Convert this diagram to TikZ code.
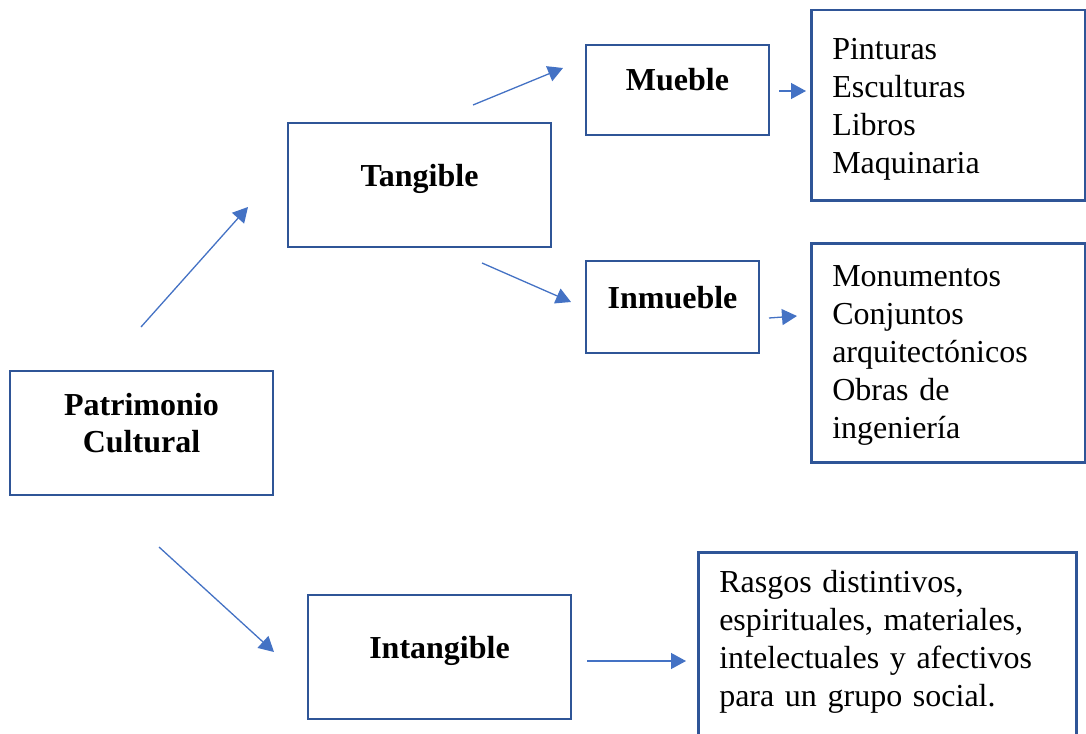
\documentclass[tikz,border=0pt]{standalone}
\usepackage{fontspec}
\setmainfont{Liberation Serif}
\usetikzlibrary{arrows.meta}

\definecolor{boxblue}{HTML}{2F5597}
\definecolor{arrowblue}{HTML}{4472C4}

\tikzset{
  box/.style={draw=boxblue, line width=2.5pt, inner sep=0pt,
    minimum width=263pt, minimum height=124pt,
    text height=22pt, text depth=20pt,
    font=\bfseries\fontsize{32}{37}\selectfont, align=center},
  listbox/.style={draw=boxblue, line width=2.5pt, inner xsep=21pt, inner ysep=0pt,
    align=left, font=\fontsize{32}{38}\selectfont},
  arr/.style={-{Triangle[length=15pt,width=16pt]}, draw=arrowblue, line width=1.3pt},
}

\begin{document}
\begin{tikzpicture}[x=1pt, y=-1pt]
    \useasboundingbox (0,0) rectangle (1086,733);

    % boxes
    \node[box, text height=59pt, text depth=21pt] (pc) at (141.5,433) {Patrimonio\\Cultural};
    \node[box] (tan) at (419.5,185) {Tangible};
    \node[box, minimum width=183pt, minimum height=90pt] (mue) at (677.5,90) {Mueble};
    \node[box, minimum width=173pt, minimum height=92pt] (inm) at (672.5,307) {Inmueble};
    \node[box] (int) at (439.5,657) {Intangible};

    % lists
    \node[listbox, anchor=north west, text width=232pt, text height=49pt, text depth=141pt] (muelist) at (810,9)
        {Pinturas\\Esculturas\\Libros\\Maquinaria};
    \node[listbox, anchor=north west, text width=232pt, text height=43pt, text depth=176pt] (inmlist) at (810,242)
        {Monumentos\\Conjuntos\\arquitectónicos\\Obras de\\ingeniería};
    \node[listbox, anchor=north west, text width=336pt, text height=40pt, text depth=160pt] (intlist) at (697,551)
        {Rasgos distintivos,\\espirituales, materiales,\\intelectuales y afectivos\\para un grupo social.};

    % arrow ends
    \coordinate (pcup) at (141,327);
    \coordinate (tanin) at (248,207);
    \coordinate (tanup) at (473,105);
    \coordinate (muein) at (563,68);
    \coordinate (tandown) at (482,263);
    \coordinate (inmin) at (571,302);
    \coordinate (mueout) at (779,91);
    \coordinate (muelistin) at (806,91);
    \coordinate (inmout) at (769,318);
    \coordinate (inmlistin) at (797,316);
    \coordinate (pcdown) at (159,547);
    \coordinate (intin) at (274,652);
    \coordinate (intout) at (587,661);
    \coordinate (intlistin) at (686,661);

    \draw[arr] (pcup) -- (tanin);
    \draw[arr] (tanup) -- (muein);
    \draw[arr] (tandown) -- (inmin);
    \draw[arr] (mueout) -- (muelistin);
    \draw[arr] (inmout) -- (inmlistin);
    \draw[arr] (pcdown) -- (intin);
    \draw[arr] (intout) -- (intlistin);
\end{tikzpicture}
\end{document}
